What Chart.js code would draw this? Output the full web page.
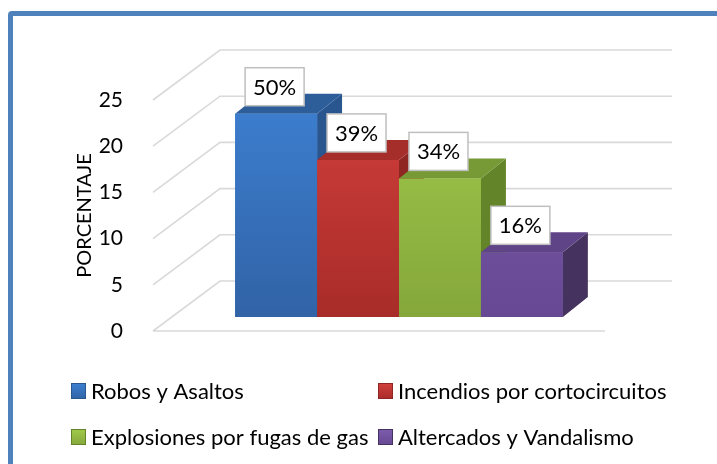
<!DOCTYPE html>
<html>
<head>
<meta charset="utf-8">
<script src="https://cdn.jsdelivr.net/npm/chart.js@4.4.0/dist/chart.umd.min.js"></script>
<style>
  html, body { margin: 0; padding: 0; background: #fff; overflow: hidden; }
  #wrap { position: relative; width: 717px; height: 464px; }
  #frame {
    position: absolute; left: 8px; top: 11px; width: 760px; height: 520px;
    border: 5px solid #4f81bd; border-radius: 4px; box-sizing: border-box;
  }
  canvas { position: absolute; left: 0; top: 0; }
</style>
</head>
<body>
<div id="wrap">
  <div id="frame"></div>
  <canvas id="chart" width="717" height="464"></canvas>
</div>
<script>
// ---------- data ----------
const categories = [''];
const seriesNames = ['Robos y Asaltos', 'Incendios por cortocircuitos', 'Explosiones por fugas de gas', 'Altercados y Vandalismo'];
const seriesValues = [22, 17, 15, 7];
const percentLabels = ['50%', '39%', '34%', '16%'];
const yTicks = [0, 5, 10, 15, 20, 25];

// ---------- look ----------
const frontTop = ['#3d80d2', '#d3403c', '#a0ca4b', '#7d5cad'];
const frontBottom = ['#3163a6', '#a82c29', '#85a73b', '#664893'];
const topFace = ['#2d5e9a', '#a52e2b', '#779a36', '#5f4587'];
const sideFace = ['#2a5690', '#8f2623', '#64842a', '#46325f'];

const FONT = 'Lato';
const WALL = { dx: 67, dy: -50 };               // back wall offset from the front plane
const BAR = { x: 20, y: -14, dx: 25, dy: -20 }; // bar plane offset and bar depth
const legendPos = [[71, 391], [378, 391], [71, 437], [378, 437]];

function frontGradient(i) {
  return (c) => {
    const { ctx, chartArea } = c.chart;
    if (!chartArea) return frontTop[i];
    const g = ctx.createLinearGradient(0, chartArea.top, 0, chartArea.bottom);
    g.addColorStop(0, frontTop[i]);
    g.addColorStop(1, frontBottom[i]);
    return g;
  };
}

function poly(ctx, pts, fill) {
  ctx.beginPath();
  ctx.moveTo(pts[0][0], pts[0][1]);
  pts.slice(1).forEach(p => ctx.lineTo(p[0], p[1]));
  ctx.closePath();
  ctx.fillStyle = fill;
  ctx.fill();
}

// walls + 3D faces + value boxes + legend
const threeD = {
  id: 'threeD',
  beforeDatasetsDraw(chart) {
    const { ctx, chartArea: a, scales: { y } } = chart;
    ctx.save();
    ctx.strokeStyle = '#d9d9d9';
    ctx.lineWidth = 1.6;
    yTicks.forEach(v => {
      const py = y.getPixelForValue(v);
      ctx.beginPath();
      ctx.moveTo(a.left, py);
      ctx.lineTo(a.left + WALL.dx, py + WALL.dy);
      ctx.lineTo(a.right + WALL.dx, py + WALL.dy);
      ctx.stroke();
    });
    const p0 = y.getPixelForValue(0);
    ctx.beginPath();
    ctx.moveTo(a.left, p0);
    ctx.lineTo(a.right, p0);
    ctx.stroke();
    ctx.restore();
    ctx.save();
    ctx.translate(BAR.x, BAR.y);
  },
  afterDatasetsDraw(chart) {
    const { ctx } = chart;
    // redraw left to right so each bar hides the side of the one before
    chart.data.datasets.forEach((ds, i) => {
      const el = chart.getDatasetMeta(i).data[0];
      const { x, y, base, width } = el.getProps(['x', 'y', 'base', 'width'], true);
      const l = x - width / 2, r = x + width / 2;
      poly(ctx, [[r, y], [r + BAR.dx, y + BAR.dy], [r + BAR.dx, base + BAR.dy], [r, base]], sideFace[i]);
      poly(ctx, [[l, y], [r, y], [r + BAR.dx, y + BAR.dy], [l + BAR.dx, y + BAR.dy]], topFace[i]);
      el.draw(ctx, chart.chartArea);
    });
    ctx.restore();

    // value boxes
    ctx.save();
    ctx.font = `22px ${FONT}`;
    ctx.textAlign = 'center';
    ctx.textBaseline = 'middle';
    chart.data.datasets.forEach((ds, i) => {
      const el = chart.getDatasetMeta(i).data[0];
      const cx = el.x + BAR.x - 1.5;
      const cy = el.y + BAR.y - 27;
      ctx.fillStyle = '#fff';
      ctx.fillRect(cx - 29.5, cy - 19, 59, 38);
      ctx.strokeStyle = '#bfbfbf';
      ctx.lineWidth = 1.5;
      ctx.strokeRect(cx - 29.5, cy - 19, 59, 38);
      ctx.fillStyle = '#000';
      ctx.fillText(percentLabels[i], cx, cy + 1);
    });
    ctx.restore();
  },
  afterDraw(chart) {
    const { ctx } = chart;
    ctx.save();
    ctx.font = `22px ${FONT}`;
    ctx.textBaseline = 'middle';
    seriesNames.forEach((name, i) => {
      const [lx, ly] = legendPos[i];
      const g = ctx.createLinearGradient(0, ly - 8, 0, ly + 8);
      g.addColorStop(0, frontTop[i]);
      g.addColorStop(1, frontBottom[i]);
      ctx.fillStyle = g;
      ctx.fillRect(lx, ly - 8, 15, 16);
      ctx.strokeStyle = sideFace[i];
      ctx.lineWidth = 1;
      ctx.strokeRect(lx + 0.5, ly - 7.5, 14, 15);
      ctx.fillStyle = '#000';
      ctx.fillText(name, lx + 20, ly + 1);
    });
    ctx.restore();
  }
};

new Chart(document.getElementById('chart'), {
  type: 'bar',
  data: {
    labels: categories,
    datasets: seriesNames.map((name, i) => ({
      label: name,
      data: [seriesValues[i]],
      backgroundColor: frontGradient(i),
      borderWidth: 0,
      categoryPercentage: 0.725,
      barPercentage: 1,
      clip: false
    }))
  },
  options: {
    responsive: false,
    animation: false,
    devicePixelRatio: 1,
    layout: { padding: { left: 71, right: 112, top: 100, bottom: 133 } },
    plugins: { legend: { display: false }, tooltip: { enabled: false } },
    scales: {
      x: { display: false },
      y: {
        min: 0,
        max: 25,
        afterFit: (s) => { s.width = 82; },
        grid: { display: false },
        border: { display: false },
        ticks: { stepSize: 5, padding: 22, color: '#000', font: { family: FONT, size: 21 } },
        title: {
          display: true,
          text: 'PORCENTAJE',
          color: '#000',
          font: { family: FONT, size: 20 },
          padding: { top: 2, bottom: 0 }
        }
      }
    }
  },
  plugins: [threeD]
});
</script>
</body>
</html>
